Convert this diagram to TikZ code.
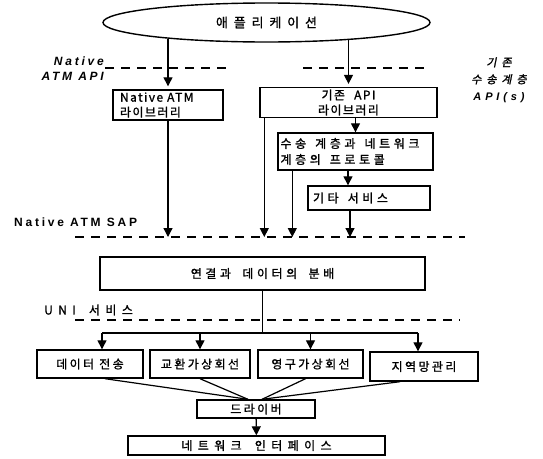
\documentclass[tikz,border=0pt]{standalone}
\usepackage{fontspec}
\setmainfont{Liberation Sans}
\newfontfamily\hgn[LetterSpace=12,FakeBold=1.2]{Noto Sans CJK KR}
\newfontfamily\hgm[LetterSpace=20,FakeBold=1.2]{Noto Sans CJK KR}
\newfontfamily\hgw[LetterSpace=30,FakeBold=1.2]{Noto Sans CJK KR}
\newfontfamily\hgx[LetterSpace=45,FakeBold=1.2]{Noto Sans CJK KR}
\newfontfamily\hgsl[LetterSpace=45,FakeSlant=0.2,FakeBold=1.5]{Noto Sans CJK KR}
\newfontfamily\latsp[LetterSpace=23]{Liberation Sans}
\newfontfamily\latw[LetterSpace=35]{Liberation Sans}
\newcommand\wg{\hspace{5pt}}
\usetikzlibrary{arrows.meta,shapes.geometric}

\begin{document}
\begin{tikzpicture}[x=1pt, y=-1pt,
    box/.style={draw, line width=1.4pt, inner sep=2pt},
    fn/.style={font={\hgn\fontsize{12}{15}\selectfont}},
    fm/.style={font={\hgm\fontsize{12}{15}\selectfont}},
    fw/.style={font={\hgw\fontsize{12}{16}\selectfont}},
    flow/.style={line width=1.3pt, -{Triangle[length=9pt,width=9pt]}},
    link/.style={line width=1.2pt},
    sepline/.style={line width=1.6pt, dash pattern=on 9pt off 7pt},
    lbl/.style={font={\latsp\bfseries\itshape\fontsize{12}{15}\selectfont}, inner sep=0pt}]

    \useasboundingbox (0,0) rectangle (543,458);

    % 구분선 좌표
    \coordinate (apiA) at (105,68);
    \coordinate (apiB) at (233,68);
    \coordinate (apiC) at (303,68);
    \coordinate (apiD) at (428,68);
    \coordinate (sapA) at (75,237);
    \coordinate (sapB) at (465,237);
    \coordinate (uniA) at (75,320);
    \coordinate (uniB) at (460,320);
    \coordinate (bus) at (0,333);

    % 애플리케이션
    \node[draw, ellipse, line width=1.4pt, minimum width=327, minimum height=39,
          font={\hgx\fontsize{13}{15}\selectfont}] (app) at (266.5,22.5) {애플리케이션};

    % API 층
    \draw[sepline] (apiA) -- (apiB);
    \draw[sepline] (apiC) -- (apiD);
    \node[lbl, align=right, anchor=east] (apilbl) at (104,69) {Native\\ATM API};
    \node[align=center, inner sep=0pt, font={\fontsize{11}{17}\selectfont}] (oldlbl) at (499,80)
        {{\hgsl 기존}\\{\hgsl 수송계층}\\{\latw\bfseries\itshape API(s)}};

    % 라이브러리
    \node[box, fn, align=left, text width=96, inner xsep=7, minimum height=30] (natlib) at (168,105) {Native ATM\\라이브러리};
    \node[box, fn, align=center, minimum width=177, minimum height=29] (apilib) at (348.5,102.5) {기존 \wg API\\라이브러리};
    \node[box, fw, align=left, text width=150, inner xsep=2.5, minimum height=37] (proto) at (355.5,151.5) {수송 \wg 계층과 \wg 네트워크\\계층의 \wg 프로토콜};
    \node[box, fw, align=left, text width=112, inner xsep=5, minimum height=24] (etc) at (369,198) {기타 \wg 서비스};

    \draw[flow, shorten >=3pt] (natlib.north |- app.190) -- (natlib.north);
    \draw[flow, shorten >=3pt] (apilib.north |- app.349) -- (apilib.north);
    \draw[flow] (apilib.south -| proto.north) -- (proto.north);
    \coordinate (etcin) at ([shift={(-21,0)}]etc.north);
    \draw[flow] (etcin |- proto.south) -- (etcin);

    % SAP
    \draw[sepline] (sapA) -- (sapB);
    \node[font={\latsp\bfseries\fontsize{12}{14}\selectfont}, anchor=west, inner sep=0pt] (saplbl) at (14,222) {Native ATM SAP};
    \coordinate (apidn) at ([shift={(5,0)}]apilib.south west);
    \coordinate (protodn) at ([shift={(15,0)}]proto.south west);
    \coordinate (etcdn) at ([shift={(-19,0)}]etc.south);
    \draw[flow] (natlib.south) -- (natlib.south |- sapA);
    \draw[flow] (apidn) -- (apidn |- sapA);
    \draw[flow] (protodn) -- (protodn |- sapA);
    \draw[flow] (etcdn) -- (etcdn |- sapA);

    % 분배
    \node[box, fw, minimum width=325, minimum height=33] (dist) at (262.5,273.5) {연결과 \wg 데이터의 \wg 분배};

    % UNI 서비스
    \draw[sepline] (uniA) -- (uniB);
    \node[font={\hgx\fontsize{12}{14}\selectfont}, anchor=west, inner sep=0pt] (unilbl) at (44,310) {UNI \wg 서비스};

    \node[box, fm, minimum width=106, minimum height=28] (data) at (90,364) {데이터 전송};
    \node[box, fm, minimum width=100, minimum height=28] (svc) at (200,364) {교환가상회선};
    \node[box, fm, minimum width=105, minimum height=28] (pvc) at (310.5,364) {영구가상회선};
    \node[box, fm, minimum width=108, minimum height=29] (lmi) at (424,366.5) {지역망관리};

    \coordinate (dataup) at ([shift={(12,0)}]data.north);
    \coordinate (lmiup) at ([shift={(-6,0)}]lmi.north);
    \draw[link] (dist.south) -- (dist.south |- bus);
    \draw[link] (dataup |- bus) -- (lmiup |- bus);
    \draw[flow] (dataup |- bus) -- (dataup);
    \draw[flow] (svc.north |- bus) -- (svc.north);
    \draw[flow] (pvc.north |- bus) -- (pvc.north);
    \draw[flow] (lmiup |- bus) -- (lmiup);

    % 드라이버
    \node[box, fm, minimum width=118, minimum height=18, inner ysep=0pt] (driver) at (256,409) {드라이버};
    \node[box, font={\hgx\fontsize{12}{14}\selectfont}, minimum width=257, minimum height=19, inner ysep=0pt] (netif) at (256.5,445.5) {네트워크 \wg 인터페이스};

    \draw[link] ([shift={(15,0)}]data.south) -- ([shift={(-8,0)}]driver.north);
    \draw[link] (svc.south) -- ([shift={(-8,0)}]driver.north);
    \draw[link] ([shift={(-5,0)}]pvc.south) -- ([shift={(6,0)}]driver.north);
    \draw[link] ([shift={(-24,0)}]lmi.south) -- ([shift={(6,0)}]driver.north);
    \draw[flow] (driver) -- (netif);

\end{tikzpicture}
\end{document}
